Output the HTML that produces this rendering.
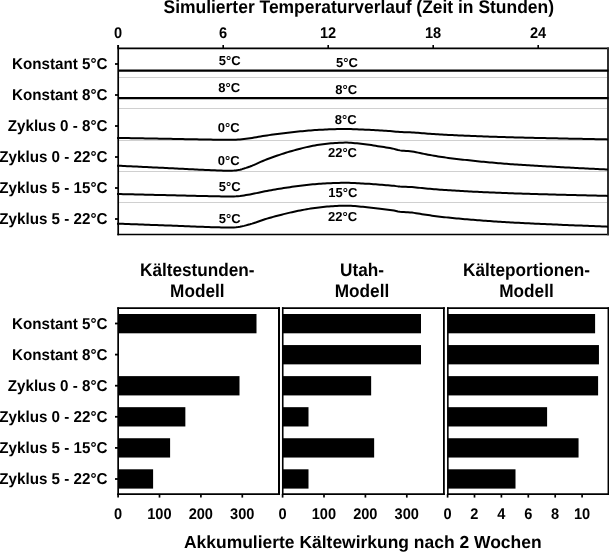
<!DOCTYPE html>
<html><head><meta charset="utf-8"><style>
html,body{margin:0;padding:0;background:#fff;width:609px;height:552px;overflow:hidden}
svg{display:block;will-change:transform}
</style></head><body>
<svg width="609" height="552" viewBox="0 0 609 552">
<rect width="609" height="552" fill="#fff"/>
<g font-family='"Liberation Sans", sans-serif' font-weight="bold" fill="#000" text-rendering="geometricPrecision">
<text transform="translate(163.50,12.50) scale(1.0,1.05)" font-size="17.47">Simulierter Temperaturverlauf (Zeit in Stunden)</text>
<text transform="translate(118.00,37.80) scale(1.0,1.06)" font-size="14.6" text-anchor="middle">0</text>
<text transform="translate(223.00,37.80) scale(1.0,1.06)" font-size="14.6" text-anchor="middle">6</text>
<text transform="translate(328.00,37.80) scale(1.0,1.06)" font-size="14.6" text-anchor="middle">12</text>
<text transform="translate(433.00,37.80) scale(1.0,1.06)" font-size="14.6" text-anchor="middle">18</text>
<text transform="translate(538.00,37.80) scale(1.0,1.06)" font-size="14.6" text-anchor="middle">24</text>
<text transform="translate(107.50,68.90) scale(1.0,1.04)" font-size="15.2" text-anchor="end">Konstant 5°C</text>
<text transform="translate(107.50,99.90) scale(1.0,1.04)" font-size="15.2" text-anchor="end">Konstant 8°C</text>
<text transform="translate(107.50,130.90) scale(1.0,1.04)" font-size="15.2" text-anchor="end">Zyklus 0 - 8°C</text>
<text transform="translate(107.50,161.90) scale(1.0,1.04)" font-size="15.2" text-anchor="end">Zyklus 0 - 22°C</text>
<text transform="translate(107.50,192.90) scale(1.0,1.04)" font-size="15.2" text-anchor="end">Zyklus 5 - 15°C</text>
<text transform="translate(107.50,223.90) scale(1.0,1.04)" font-size="15.2" text-anchor="end">Zyklus 5 - 22°C</text>
<text transform="translate(107.50,328.90) scale(1.0,1.04)" font-size="15.2" text-anchor="end">Konstant 5°C</text>
<text transform="translate(107.50,359.87) scale(1.0,1.04)" font-size="15.2" text-anchor="end">Konstant 8°C</text>
<text transform="translate(107.50,390.84) scale(1.0,1.04)" font-size="15.2" text-anchor="end">Zyklus 0 - 8°C</text>
<text transform="translate(107.50,421.81) scale(1.0,1.04)" font-size="15.2" text-anchor="end">Zyklus 0 - 22°C</text>
<text transform="translate(107.50,452.78) scale(1.0,1.04)" font-size="15.2" text-anchor="end">Zyklus 5 - 15°C</text>
<text transform="translate(107.50,483.75) scale(1.0,1.04)" font-size="15.2" text-anchor="end">Zyklus 5 - 22°C</text>
<text transform="translate(240.60,64.80)" font-size="13" text-anchor="end">5°C</text>
<text transform="translate(357.80,66.90)" font-size="13" text-anchor="end">5°C</text>
<text transform="translate(240.20,92.20)" font-size="13" text-anchor="end">8°C</text>
<text transform="translate(357.20,94.10)" font-size="13" text-anchor="end">8°C</text>
<text transform="translate(239.60,132.30)" font-size="13" text-anchor="end">0°C</text>
<text transform="translate(356.70,124.10)" font-size="13" text-anchor="end">8°C</text>
<text transform="translate(239.60,165.40)" font-size="13" text-anchor="end">0°C</text>
<text transform="translate(357.00,157.00)" font-size="13" text-anchor="end">22°C</text>
<text transform="translate(240.60,191.00)" font-size="13" text-anchor="end">5°C</text>
<text transform="translate(357.30,197.10)" font-size="13" text-anchor="end">15°C</text>
<text transform="translate(240.60,222.60)" font-size="13" text-anchor="end">5°C</text>
<text transform="translate(357.10,220.90)" font-size="13" text-anchor="end">22°C</text>
<text transform="translate(197.30,276.40) scale(1.0,1.06)" font-size="17.2" text-anchor="middle">Kältestunden-</text>
<text transform="translate(197.30,296.90) scale(1.0,1.06)" font-size="17.2" text-anchor="middle">Modell</text>
<text transform="translate(362.00,276.40) scale(1.0,1.06)" font-size="17.2" text-anchor="middle">Utah-</text>
<text transform="translate(362.00,296.90) scale(1.0,1.06)" font-size="17.2" text-anchor="middle">Modell</text>
<text transform="translate(526.50,276.40) scale(1.0,1.06)" font-size="17.2" text-anchor="middle">Kälteportionen-</text>
<text transform="translate(526.50,296.90) scale(1.0,1.06)" font-size="17.2" text-anchor="middle">Modell</text>
<text transform="translate(118.00,518.60) scale(1.0,1.06)" font-size="14.6" text-anchor="middle">0</text>
<text transform="translate(159.40,518.60) scale(1.0,1.06)" font-size="14.6" text-anchor="middle">100</text>
<text transform="translate(200.80,518.60) scale(1.0,1.06)" font-size="14.6" text-anchor="middle">200</text>
<text transform="translate(242.20,518.60) scale(1.0,1.06)" font-size="14.6" text-anchor="middle">300</text>
<text transform="translate(282.50,518.60) scale(1.0,1.06)" font-size="14.6" text-anchor="middle">0</text>
<text transform="translate(323.90,518.60) scale(1.0,1.06)" font-size="14.6" text-anchor="middle">100</text>
<text transform="translate(365.30,518.60) scale(1.0,1.06)" font-size="14.6" text-anchor="middle">200</text>
<text transform="translate(406.70,518.60) scale(1.0,1.06)" font-size="14.6" text-anchor="middle">300</text>
<text transform="translate(447.50,518.60) scale(1.0,1.06)" font-size="14.6" text-anchor="middle">0</text>
<text transform="translate(474.40,518.60) scale(1.0,1.06)" font-size="14.6" text-anchor="middle">2</text>
<text transform="translate(501.30,518.60) scale(1.0,1.06)" font-size="14.6" text-anchor="middle">4</text>
<text transform="translate(528.20,518.60) scale(1.0,1.06)" font-size="14.6" text-anchor="middle">6</text>
<text transform="translate(555.10,518.60) scale(1.0,1.06)" font-size="14.6" text-anchor="middle">8</text>
<text transform="translate(582.00,518.60) scale(1.0,1.06)" font-size="14.6" text-anchor="middle">10</text>
<text transform="translate(184.00,548.20)" font-size="17.47">Akkumulierte Kältewirkung nach 2 Wochen</text>
</g>
<g stroke="#d0d0d0" stroke-width="1.2">
<line x1="119" y1="77.5" x2="607" y2="77.5"/>
<line x1="119" y1="108.5" x2="607" y2="108.5"/>
<line x1="119" y1="140.5" x2="607" y2="140.5"/>
<line x1="119" y1="171.5" x2="607" y2="171.5"/>
<line x1="119" y1="202.5" x2="607" y2="202.5"/>
</g>
<g fill="none">
<line x1="118.2" y1="45" x2="118.2" y2="235.3" stroke="#000" stroke-width="1.7"/>
<line x1="117.4" y1="48.4" x2="609" y2="48.4" stroke="#000" stroke-width="1.8"/>
<line x1="117.4" y1="234.5" x2="609" y2="234.5" stroke="#000" stroke-width="1.7"/>
<line x1="608" y1="47.5" x2="608" y2="235.3" stroke="#303030" stroke-width="2"/>
<line x1="118.2" y1="45" x2="118.2" y2="48" stroke="#000" stroke-width="1.6"/>
<line x1="223.2" y1="45" x2="223.2" y2="48" stroke="#000" stroke-width="1.6"/>
<line x1="328.2" y1="45" x2="328.2" y2="48" stroke="#000" stroke-width="1.6"/>
<line x1="433.2" y1="45" x2="433.2" y2="48" stroke="#000" stroke-width="1.6"/>
<line x1="538.2" y1="45" x2="538.2" y2="48" stroke="#000" stroke-width="1.6"/>
<line x1="115" y1="64" x2="118" y2="64" stroke="#000" stroke-width="1.8"/>
<line x1="115" y1="95" x2="118" y2="95" stroke="#000" stroke-width="1.8"/>
<line x1="115" y1="126" x2="118" y2="126" stroke="#000" stroke-width="1.8"/>
<line x1="115" y1="157" x2="118" y2="157" stroke="#000" stroke-width="1.8"/>
<line x1="115" y1="188" x2="118" y2="188" stroke="#000" stroke-width="1.8"/>
<line x1="115" y1="219" x2="118" y2="219" stroke="#000" stroke-width="1.8"/>
<line x1="118" y1="70.7" x2="608.5" y2="70.7" stroke="#000" stroke-width="2.3"/>
<line x1="118" y1="98.1" x2="608.5" y2="98.1" stroke="#000" stroke-width="2.4"/>
<path d="M117.0,137.88 L119.0,137.92 L121.0,137.95 L123.0,137.99 L125.0,138.03 L127.0,138.06 L129.0,138.10 L131.0,138.14 L133.0,138.17 L135.0,138.21 L137.0,138.24 L139.0,138.28 L141.0,138.32 L143.0,138.35 L145.0,138.39 L147.0,138.43 L149.0,138.46 L151.0,138.50 L153.0,138.54 L155.0,138.57 L157.0,138.61 L159.0,138.64 L161.0,138.68 L163.0,138.72 L165.0,138.75 L167.0,138.79 L169.0,138.83 L171.0,138.86 L173.0,138.90 L175.0,138.94 L177.0,138.98 L179.0,139.02 L181.0,139.06 L183.0,139.10 L185.0,139.14 L187.0,139.18 L189.0,139.22 L191.0,139.26 L193.0,139.30 L195.0,139.33 L197.0,139.37 L199.0,139.41 L201.0,139.45 L203.0,139.48 L205.0,139.52 L207.0,139.55 L209.0,139.58 L211.0,139.61 L213.0,139.64 L215.0,139.67 L217.0,139.70 L219.1,139.73 L221.2,139.77 L223.3,139.80 L225.4,139.83 L227.6,139.85 L229.7,139.85 L231.8,139.83 L233.9,139.78 L236.0,139.70 L238.0,139.58 L240.0,139.42 L242.0,139.22 L244.0,139.00 L246.0,138.74 L248.0,138.48 L250.0,138.20 L252.1,137.89 L254.2,137.55 L256.4,137.19 L258.5,136.82 L260.6,136.45 L262.8,136.09 L264.9,135.74 L267.0,135.42 L269.1,135.12 L271.2,134.83 L273.2,134.54 L275.3,134.26 L277.4,133.98 L279.5,133.71 L281.6,133.44 L283.7,133.18 L285.8,132.93 L287.8,132.68 L289.9,132.44 L292.0,132.21 L294.1,131.98 L296.2,131.76 L298.2,131.55 L300.3,131.34 L302.4,131.13 L304.5,130.93 L306.6,130.75 L308.7,130.57 L310.8,130.40 L312.8,130.24 L314.9,130.10 L317.0,129.96 L319.0,129.85 L321.0,129.73 L323.0,129.63 L325.0,129.53 L327.0,129.44 L329.0,129.36 L331.0,129.28 L333.0,129.22 L335.0,129.16 L337.0,129.11 L339.0,129.07 L341.0,129.04 L343.0,129.01 L345.0,129.00 L347.0,129.00 L349.0,129.03 L351.0,129.07 L353.0,129.13 L355.0,129.20 L357.0,129.29 L359.0,129.38 L361.0,129.47 L363.0,129.57 L365.0,129.66 L367.0,129.75 L369.2,129.85 L371.3,129.97 L373.5,130.10 L375.7,130.23 L377.8,130.37 L380.0,130.50 L382.0,130.62 L384.0,130.73 L386.0,130.85 L388.0,130.97 L390.0,131.10 L392.0,131.25 L394.0,131.43 L396.0,131.64 L398.0,131.84 L400.0,132.00 L402.0,132.09 L404.0,132.16 L406.0,132.21 L408.0,132.26 L410.0,132.33 L412.0,132.42 L414.0,132.55 L416.0,132.70 L418.0,132.85 L420.0,133.02 L422.0,133.18 L424.0,133.34 L426.0,133.49 L428.0,133.64 L430.0,133.78 L432.0,133.92 L434.0,134.06 L436.0,134.20 L438.0,134.33 L440.0,134.45 L442.0,134.56 L444.1,134.68 L446.2,134.78 L448.2,134.89 L450.3,134.99 L452.4,135.09 L454.5,135.19 L456.6,135.29 L458.7,135.38 L460.8,135.47 L462.8,135.56 L464.9,135.65 L467.0,135.74 L469.1,135.83 L471.2,135.92 L473.2,136.00 L475.3,136.09 L477.4,136.17 L479.5,136.25 L481.6,136.33 L483.7,136.41 L485.8,136.48 L487.8,136.56 L489.9,136.63 L492.0,136.70 L494.1,136.77 L496.2,136.84 L498.2,136.91 L500.3,136.98 L502.4,137.04 L504.5,137.11 L506.6,137.17 L508.7,137.23 L510.8,137.29 L512.8,137.34 L514.9,137.40 L517.0,137.45 L519.0,137.50 L521.0,137.55 L523.0,137.60 L525.0,137.65 L527.0,137.70 L529.0,137.75 L531.0,137.80 L533.0,137.84 L535.0,137.89 L537.0,137.93 L539.0,137.98 L541.0,138.03 L543.0,138.07 L545.0,138.11 L547.0,138.16 L549.0,138.20 L551.0,138.25 L553.0,138.29 L555.0,138.33 L557.0,138.37 L559.0,138.42 L561.0,138.46 L563.1,138.50 L565.1,138.54 L567.2,138.59 L569.2,138.63 L571.2,138.67 L573.3,138.71 L575.3,138.75 L577.4,138.79 L579.4,138.83 L581.5,138.87 L583.5,138.91 L585.5,138.95 L587.6,138.99 L589.6,139.02 L591.7,139.06 L593.7,139.10 L595.8,139.14 L597.8,139.18 L599.8,139.22 L601.9,139.26 L603.9,139.30 L606.0,139.34 L608.0,139.38" stroke="#000" stroke-width="2.0" stroke-linejoin="round"/>
<path d="M117.0,165.67 L119.0,165.77 L121.0,165.86 L123.0,165.96 L125.0,166.05 L127.0,166.15 L129.0,166.24 L131.0,166.34 L133.0,166.43 L135.0,166.52 L137.0,166.62 L139.0,166.71 L141.0,166.81 L143.0,166.90 L145.0,167.00 L147.0,167.09 L149.0,167.19 L151.0,167.28 L153.0,167.38 L155.0,167.47 L157.0,167.56 L159.0,167.66 L161.0,167.75 L163.0,167.85 L165.0,167.94 L167.0,168.04 L169.0,168.13 L171.0,168.23 L173.0,168.33 L175.0,168.43 L177.0,168.53 L179.0,168.63 L181.0,168.74 L183.0,168.84 L185.0,168.94 L187.0,169.04 L189.0,169.15 L191.0,169.25 L193.0,169.35 L195.0,169.45 L197.0,169.55 L199.0,169.65 L201.0,169.74 L203.0,169.83 L205.0,169.92 L207.0,170.01 L209.0,170.10 L211.0,170.18 L213.0,170.26 L215.0,170.33 L217.0,170.40 L219.1,170.48 L221.2,170.57 L223.3,170.66 L225.4,170.74 L227.6,170.78 L229.7,170.78 L231.8,170.73 L233.9,170.60 L236.0,170.40 L238.0,170.10 L240.0,169.68 L242.0,169.16 L244.0,168.57 L246.0,167.92 L248.0,167.22 L250.0,166.51 L252.1,165.70 L254.2,164.82 L256.4,163.88 L258.5,162.92 L260.6,161.95 L262.8,161.01 L264.9,160.11 L267.0,159.28 L269.1,158.51 L271.2,157.75 L273.2,157.01 L275.3,156.27 L277.4,155.55 L279.5,154.84 L281.6,154.14 L283.7,153.47 L285.8,152.81 L287.8,152.16 L289.9,151.54 L292.0,150.94 L294.1,150.35 L296.2,149.78 L298.2,149.22 L300.3,148.67 L302.4,148.14 L304.5,147.63 L306.6,147.14 L308.7,146.67 L310.8,146.24 L312.8,145.83 L314.9,145.45 L317.0,145.10 L319.0,144.80 L321.0,144.51 L323.0,144.23 L325.0,143.98 L327.0,143.75 L329.0,143.53 L331.0,143.34 L333.0,143.17 L335.0,143.01 L337.0,142.88 L339.0,142.78 L341.0,142.69 L343.0,142.63 L345.0,142.60 L347.0,142.61 L349.0,142.67 L351.0,142.79 L353.0,142.94 L355.0,143.13 L357.0,143.35 L359.0,143.58 L361.0,143.82 L363.0,144.07 L365.0,144.32 L367.0,144.55 L369.2,144.81 L371.3,145.11 L373.5,145.45 L375.7,145.79 L377.8,146.15 L380.0,146.49 L382.0,146.80 L384.0,147.10 L386.0,147.41 L388.0,147.73 L390.0,148.07 L392.0,148.44 L394.0,148.90 L396.0,149.45 L398.0,149.98 L400.0,150.38 L402.0,150.64 L404.0,150.81 L406.0,150.94 L408.0,151.08 L410.0,151.25 L412.0,151.50 L414.0,151.82 L416.0,152.20 L418.0,152.61 L420.0,153.04 L422.0,153.47 L424.0,153.89 L426.0,154.28 L428.0,154.65 L430.0,155.02 L432.0,155.39 L434.0,155.75 L436.0,156.10 L438.0,156.44 L440.0,156.76 L442.0,157.06 L444.1,157.35 L446.2,157.63 L448.2,157.90 L450.3,158.17 L452.4,158.43 L454.5,158.68 L456.6,158.93 L458.7,159.17 L460.8,159.41 L462.8,159.65 L464.9,159.88 L467.0,160.11 L469.1,160.34 L471.2,160.57 L473.2,160.79 L475.3,161.01 L477.4,161.22 L479.5,161.43 L481.6,161.64 L483.7,161.84 L485.8,162.04 L487.8,162.24 L489.9,162.43 L492.0,162.62 L494.1,162.80 L496.2,162.98 L498.2,163.16 L500.3,163.33 L502.4,163.50 L504.5,163.66 L506.6,163.82 L508.7,163.98 L510.8,164.13 L512.8,164.28 L514.9,164.42 L517.0,164.56 L519.0,164.69 L521.0,164.82 L523.0,164.95 L525.0,165.08 L527.0,165.21 L529.0,165.33 L531.0,165.45 L533.0,165.57 L535.0,165.69 L537.0,165.81 L539.0,165.93 L541.0,166.05 L543.0,166.16 L545.0,166.28 L547.0,166.39 L549.0,166.51 L551.0,166.62 L553.0,166.73 L555.0,166.84 L557.0,166.95 L559.0,167.06 L561.0,167.18 L563.1,167.29 L565.1,167.40 L567.2,167.50 L569.2,167.61 L571.2,167.72 L573.3,167.82 L575.3,167.93 L577.4,168.03 L579.4,168.13 L581.5,168.24 L583.5,168.34 L585.5,168.44 L587.6,168.54 L589.6,168.64 L591.7,168.75 L593.7,168.85 L595.8,168.95 L597.8,169.05 L599.8,169.15 L601.9,169.26 L603.9,169.36 L606.0,169.46 L608.0,169.57" stroke="#000" stroke-width="2.0" stroke-linejoin="round"/>
<path d="M117.0,194.01 L119.0,194.05 L121.0,194.10 L123.0,194.14 L125.0,194.19 L127.0,194.23 L129.0,194.28 L131.0,194.33 L133.0,194.37 L135.0,194.42 L137.0,194.46 L139.0,194.51 L141.0,194.56 L143.0,194.60 L145.0,194.65 L147.0,194.69 L149.0,194.74 L151.0,194.79 L153.0,194.83 L155.0,194.88 L157.0,194.92 L159.0,194.97 L161.0,195.01 L163.0,195.06 L165.0,195.11 L167.0,195.15 L169.0,195.20 L171.0,195.25 L173.0,195.29 L175.0,195.34 L177.0,195.39 L179.0,195.44 L181.0,195.49 L183.0,195.54 L185.0,195.59 L187.0,195.64 L189.0,195.69 L191.0,195.74 L193.0,195.79 L195.0,195.84 L197.0,195.89 L199.0,195.93 L201.0,195.98 L203.0,196.02 L205.0,196.07 L207.0,196.11 L209.0,196.15 L211.0,196.19 L213.0,196.23 L215.0,196.27 L217.0,196.30 L219.1,196.34 L221.2,196.38 L223.3,196.43 L225.4,196.46 L227.6,196.48 L229.7,196.48 L231.8,196.46 L233.9,196.40 L236.0,196.30 L238.0,196.15 L240.0,195.95 L242.0,195.70 L244.0,195.41 L246.0,195.09 L248.0,194.76 L250.0,194.41 L252.1,194.02 L254.2,193.59 L256.4,193.13 L258.5,192.67 L260.6,192.20 L262.8,191.74 L264.9,191.30 L267.0,190.90 L269.1,190.53 L271.2,190.16 L273.2,189.80 L275.3,189.44 L277.4,189.09 L279.5,188.74 L281.6,188.41 L283.7,188.08 L285.8,187.76 L287.8,187.44 L289.9,187.14 L292.0,186.85 L294.1,186.57 L296.2,186.29 L298.2,186.01 L300.3,185.75 L302.4,185.49 L304.5,185.24 L306.6,185.00 L308.7,184.78 L310.8,184.57 L312.8,184.37 L314.9,184.18 L317.0,184.02 L319.0,183.87 L321.0,183.73 L323.0,183.59 L325.0,183.47 L327.0,183.36 L329.0,183.25 L331.0,183.16 L333.0,183.07 L335.0,183.00 L337.0,182.94 L339.0,182.89 L341.0,182.85 L343.0,182.82 L345.0,182.80 L347.0,182.80 L349.0,182.84 L351.0,182.89 L353.0,182.97 L355.0,183.06 L357.0,183.16 L359.0,183.28 L361.0,183.39 L363.0,183.51 L365.0,183.63 L367.0,183.75 L369.2,183.87 L371.3,184.02 L373.5,184.18 L375.7,184.35 L377.8,184.52 L380.0,184.69 L382.0,184.84 L384.0,184.99 L386.0,185.13 L388.0,185.29 L390.0,185.45 L392.0,185.64 L394.0,185.86 L396.0,186.13 L398.0,186.38 L400.0,186.58 L402.0,186.70 L404.0,186.79 L406.0,186.85 L408.0,186.92 L410.0,187.00 L412.0,187.12 L414.0,187.28 L416.0,187.46 L418.0,187.66 L420.0,187.87 L422.0,188.08 L424.0,188.28 L426.0,188.47 L428.0,188.65 L430.0,188.83 L432.0,189.01 L434.0,189.19 L436.0,189.36 L438.0,189.52 L440.0,189.68 L442.0,189.82 L444.1,189.96 L446.2,190.10 L448.2,190.23 L450.3,190.36 L452.4,190.49 L454.5,190.61 L456.6,190.73 L458.7,190.85 L460.8,190.96 L462.8,191.08 L464.9,191.19 L467.0,191.31 L469.1,191.42 L471.2,191.53 L473.2,191.63 L475.3,191.74 L477.4,191.84 L479.5,191.95 L481.6,192.05 L483.7,192.15 L485.8,192.24 L487.8,192.34 L489.9,192.43 L492.0,192.52 L494.1,192.61 L496.2,192.70 L498.2,192.78 L500.3,192.87 L502.4,192.95 L504.5,193.03 L506.6,193.10 L508.7,193.18 L510.8,193.25 L512.8,193.33 L514.9,193.40 L517.0,193.47 L519.0,193.53 L521.0,193.59 L523.0,193.65 L525.0,193.72 L527.0,193.78 L529.0,193.84 L531.0,193.90 L533.0,193.96 L535.0,194.01 L537.0,194.07 L539.0,194.13 L541.0,194.19 L543.0,194.24 L545.0,194.30 L547.0,194.35 L549.0,194.41 L551.0,194.46 L553.0,194.52 L555.0,194.57 L557.0,194.63 L559.0,194.68 L561.0,194.73 L563.1,194.79 L565.1,194.84 L567.2,194.89 L569.2,194.95 L571.2,195.00 L573.3,195.05 L575.3,195.10 L577.4,195.15 L579.4,195.20 L581.5,195.25 L583.5,195.30 L585.5,195.35 L587.6,195.40 L589.6,195.45 L591.7,195.50 L593.7,195.55 L595.8,195.60 L597.8,195.65 L599.8,195.69 L601.9,195.74 L603.9,195.79 L606.0,195.84 L608.0,195.90" stroke="#000" stroke-width="2.0" stroke-linejoin="round"/>
<path d="M117.0,223.63 L119.0,223.70 L121.0,223.77 L123.0,223.85 L125.0,223.92 L127.0,224.00 L129.0,224.07 L131.0,224.14 L133.0,224.22 L135.0,224.29 L137.0,224.36 L139.0,224.44 L141.0,224.51 L143.0,224.58 L145.0,224.66 L147.0,224.73 L149.0,224.80 L151.0,224.88 L153.0,224.95 L155.0,225.02 L157.0,225.10 L159.0,225.17 L161.0,225.24 L163.0,225.32 L165.0,225.39 L167.0,225.46 L169.0,225.54 L171.0,225.61 L173.0,225.69 L175.0,225.77 L177.0,225.85 L179.0,225.93 L181.0,226.01 L183.0,226.09 L185.0,226.17 L187.0,226.25 L189.0,226.33 L191.0,226.41 L193.0,226.48 L195.0,226.56 L197.0,226.64 L199.0,226.71 L201.0,226.79 L203.0,226.86 L205.0,226.93 L207.0,227.00 L209.0,227.06 L211.0,227.13 L213.0,227.19 L215.0,227.25 L217.0,227.30 L219.1,227.36 L221.2,227.43 L223.3,227.50 L225.4,227.56 L227.6,227.59 L229.7,227.60 L231.8,227.55 L233.9,227.46 L236.0,227.30 L238.0,227.07 L240.0,226.74 L242.0,226.34 L244.0,225.88 L246.0,225.37 L248.0,224.83 L250.0,224.28 L252.1,223.65 L254.2,222.96 L256.4,222.24 L258.5,221.49 L260.6,220.74 L262.8,220.00 L264.9,219.31 L267.0,218.66 L269.1,218.06 L271.2,217.47 L273.2,216.89 L275.3,216.32 L277.4,215.76 L279.5,215.21 L281.6,214.67 L283.7,214.14 L285.8,213.63 L287.8,213.13 L289.9,212.65 L292.0,212.18 L294.1,211.72 L296.2,211.28 L298.2,210.84 L300.3,210.41 L302.4,210.00 L304.5,209.61 L306.6,209.23 L308.7,208.86 L310.8,208.52 L312.8,208.21 L314.9,207.91 L317.0,207.64 L319.0,207.41 L321.0,207.18 L323.0,206.97 L325.0,206.77 L327.0,206.59 L329.0,206.43 L331.0,206.27 L333.0,206.14 L335.0,206.02 L337.0,205.92 L339.0,205.84 L341.0,205.77 L343.0,205.73 L345.0,205.70 L347.0,205.71 L349.0,205.76 L351.0,205.85 L353.0,205.97 L355.0,206.11 L357.0,206.28 L359.0,206.46 L361.0,206.65 L363.0,206.84 L365.0,207.03 L367.0,207.21 L369.2,207.42 L371.3,207.65 L373.5,207.91 L375.7,208.18 L377.8,208.46 L380.0,208.72 L382.0,208.96 L384.0,209.20 L386.0,209.43 L388.0,209.68 L390.0,209.95 L392.0,210.24 L394.0,210.60 L396.0,211.02 L398.0,211.43 L400.0,211.75 L402.0,211.94 L404.0,212.08 L406.0,212.18 L408.0,212.29 L410.0,212.42 L412.0,212.61 L414.0,212.87 L416.0,213.16 L418.0,213.48 L420.0,213.81 L422.0,214.14 L424.0,214.47 L426.0,214.77 L428.0,215.06 L430.0,215.35 L432.0,215.64 L434.0,215.92 L436.0,216.19 L438.0,216.45 L440.0,216.70 L442.0,216.93 L444.1,217.16 L446.2,217.38 L448.2,217.59 L450.3,217.80 L452.4,218.00 L454.5,218.20 L456.6,218.39 L458.7,218.58 L460.8,218.76 L462.8,218.95 L464.9,219.13 L467.0,219.31 L469.1,219.49 L471.2,219.66 L473.2,219.83 L475.3,220.00 L477.4,220.17 L479.5,220.33 L481.6,220.49 L483.7,220.65 L485.8,220.81 L487.8,220.96 L489.9,221.11 L492.0,221.25 L494.1,221.39 L496.2,221.53 L498.2,221.67 L500.3,221.80 L502.4,221.94 L504.5,222.06 L506.6,222.19 L508.7,222.31 L510.8,222.43 L512.8,222.54 L514.9,222.65 L517.0,222.76 L519.0,222.87 L521.0,222.97 L523.0,223.07 L525.0,223.17 L527.0,223.26 L529.0,223.36 L531.0,223.46 L533.0,223.55 L535.0,223.64 L537.0,223.74 L539.0,223.83 L541.0,223.92 L543.0,224.01 L545.0,224.10 L547.0,224.19 L549.0,224.28 L551.0,224.36 L553.0,224.45 L555.0,224.54 L557.0,224.62 L559.0,224.71 L561.0,224.79 L563.1,224.88 L565.1,224.97 L567.2,225.05 L569.2,225.13 L571.2,225.22 L573.3,225.30 L575.3,225.38 L577.4,225.46 L579.4,225.54 L581.5,225.62 L583.5,225.70 L585.5,225.78 L587.6,225.86 L589.6,225.94 L591.7,226.02 L593.7,226.09 L595.8,226.17 L597.8,226.25 L599.8,226.33 L601.9,226.41 L603.9,226.49 L606.0,226.57 L608.0,226.65" stroke="#000" stroke-width="2.0" stroke-linejoin="round"/>
</g>
<g fill="#000">
<rect x="118.15" y="314.00" width="138.35" height="19.3"/>
<rect x="118.15" y="376.12" width="121.35" height="19.3"/>
<rect x="118.15" y="407.18" width="67.20" height="19.3"/>
<rect x="118.15" y="438.24" width="51.95" height="19.3"/>
<rect x="118.15" y="469.30" width="34.95" height="19.3"/>
<rect x="282.75" y="314.00" width="138.25" height="19.3"/>
<rect x="282.75" y="345.06" width="138.25" height="19.3"/>
<rect x="282.75" y="376.12" width="88.40" height="19.3"/>
<rect x="282.75" y="407.18" width="25.75" height="19.3"/>
<rect x="282.75" y="438.24" width="91.40" height="19.3"/>
<rect x="282.75" y="469.30" width="25.75" height="19.3"/>
<rect x="447.85" y="314.00" width="147.25" height="19.3"/>
<rect x="447.85" y="345.06" width="151.10" height="19.3"/>
<rect x="447.85" y="376.12" width="150.25" height="19.3"/>
<rect x="447.85" y="407.18" width="99.25" height="19.3"/>
<rect x="447.85" y="438.24" width="130.70" height="19.3"/>
<rect x="447.85" y="469.30" width="67.65" height="19.3"/>
</g>
<g fill="none">
<line x1="118.15" y1="307.3" x2="118.15" y2="495.0" stroke="#000" stroke-width="1.7"/>
<line x1="279" y1="307.3" x2="279" y2="495.0" stroke="#000" stroke-width="2.0"/>
<line x1="117.30000000000001" y1="308.2" x2="280.0" y2="308.2" stroke="#000" stroke-width="1.7"/>
<line x1="117.30000000000001" y1="494.1" x2="280.0" y2="494.1" stroke="#000" stroke-width="1.8"/>
<line x1="282.75" y1="307.3" x2="282.75" y2="495.0" stroke="#000" stroke-width="1.6"/>
<line x1="443.9" y1="307.3" x2="443.9" y2="495.0" stroke="#000" stroke-width="1.8"/>
<line x1="281.95" y1="308.2" x2="444.79999999999995" y2="308.2" stroke="#000" stroke-width="1.7"/>
<line x1="281.95" y1="494.1" x2="444.79999999999995" y2="494.1" stroke="#000" stroke-width="1.8"/>
<line x1="447.85" y1="307.3" x2="447.85" y2="495.0" stroke="#000" stroke-width="1.6"/>
<line x1="608.3" y1="307.3" x2="608.3" y2="495.0" stroke="#000" stroke-width="1.5"/>
<line x1="447.05" y1="308.2" x2="609.05" y2="308.2" stroke="#000" stroke-width="1.7"/>
<line x1="447.05" y1="494.1" x2="609.05" y2="494.1" stroke="#000" stroke-width="1.8"/>
<line x1="115" y1="323.5" x2="118" y2="323.5" stroke="#000" stroke-width="1.8"/>
<line x1="115" y1="354.6" x2="118" y2="354.6" stroke="#000" stroke-width="1.8"/>
<line x1="115" y1="385.7" x2="118" y2="385.7" stroke="#000" stroke-width="1.8"/>
<line x1="115" y1="416.8" x2="118" y2="416.8" stroke="#000" stroke-width="1.8"/>
<line x1="115" y1="447.9" x2="118" y2="447.9" stroke="#000" stroke-width="1.8"/>
<line x1="115" y1="479.0" x2="118" y2="479.0" stroke="#000" stroke-width="1.8"/>
<line x1="118.1" y1="494" x2="118.1" y2="497.6" stroke="#000" stroke-width="1.7"/>
<line x1="159.5" y1="494" x2="159.5" y2="497.6" stroke="#000" stroke-width="1.7"/>
<line x1="200.9" y1="494" x2="200.9" y2="497.6" stroke="#000" stroke-width="1.7"/>
<line x1="242.3" y1="494" x2="242.3" y2="497.6" stroke="#000" stroke-width="1.7"/>
<line x1="282.6" y1="494" x2="282.6" y2="497.6" stroke="#000" stroke-width="1.7"/>
<line x1="324.0" y1="494" x2="324.0" y2="497.6" stroke="#000" stroke-width="1.7"/>
<line x1="365.4" y1="494" x2="365.4" y2="497.6" stroke="#000" stroke-width="1.7"/>
<line x1="406.8" y1="494" x2="406.8" y2="497.6" stroke="#000" stroke-width="1.7"/>
<line x1="447.6" y1="494" x2="447.6" y2="497.6" stroke="#000" stroke-width="1.7"/>
<line x1="474.5" y1="494" x2="474.5" y2="497.6" stroke="#000" stroke-width="1.7"/>
<line x1="501.4" y1="494" x2="501.4" y2="497.6" stroke="#000" stroke-width="1.7"/>
<line x1="528.3" y1="494" x2="528.3" y2="497.6" stroke="#000" stroke-width="1.7"/>
<line x1="555.2" y1="494" x2="555.2" y2="497.6" stroke="#000" stroke-width="1.7"/>
<line x1="582.1" y1="494" x2="582.1" y2="497.6" stroke="#000" stroke-width="1.7"/>
</g>
</svg>
</body></html>
